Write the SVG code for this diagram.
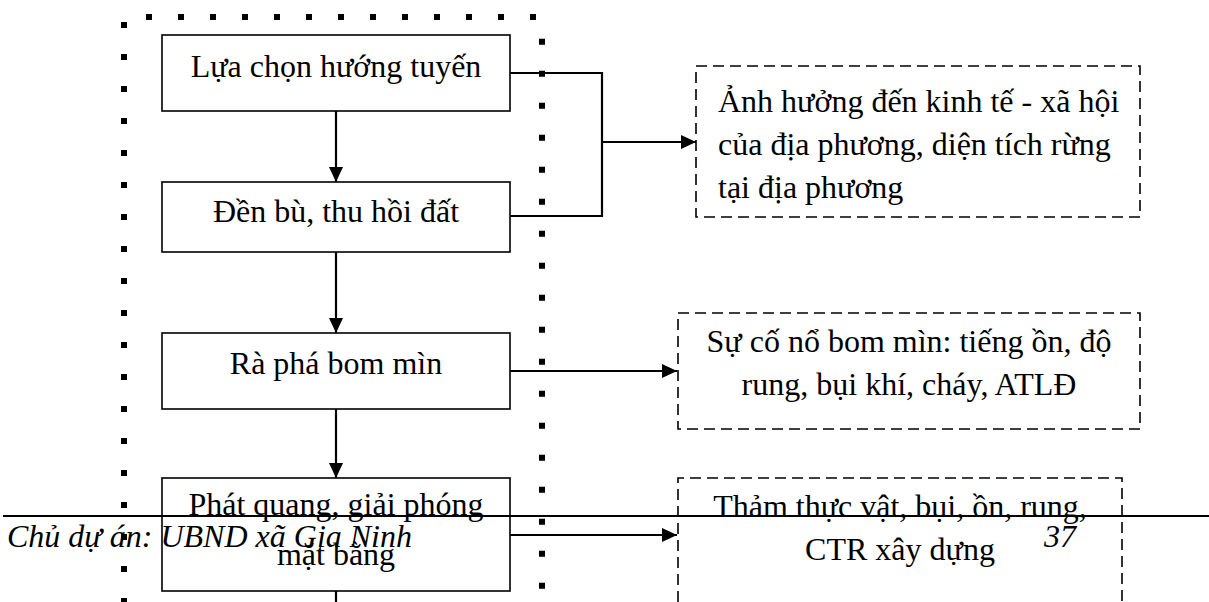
<svg xmlns="http://www.w3.org/2000/svg" width="1209" height="602" viewBox="0 0 1209 602">
<style>
text{font-family:"Liberation Serif","Times New Roman",serif;font-size:32px;fill:#000}
.c{text-anchor:middle}
.i{font-style:italic}
.box{fill:#fff;stroke:#000;stroke-width:1.6}
.dbox{fill:none;stroke:#000;stroke-width:1.6;stroke-dasharray:11 6}
.dots{stroke:#000;stroke-width:6;stroke-dasharray:6 26;fill:none}
.ln{stroke:#000;stroke-width:2.2;fill:none}
</style>
<defs>
<marker id="ah" markerUnits="userSpaceOnUse" markerWidth="16" markerHeight="14" refX="15" refY="7" orient="auto">
<path d="M0,0 L15,7 L0,14 z" fill="#000"/>
</marker>
</defs>
<g id="frame">
<line class="dots" x1="146" y1="17" x2="537" y2="17"/>
<line class="dots" x1="124" y1="22" x2="124" y2="602"/>
<line class="dots" x1="542" y1="38.7" x2="542" y2="602"/>
</g>
<g id="connectors">
<line class="ln" x1="336" y1="111" x2="336" y2="182" marker-end="url(#ah)"/>
<line class="ln" x1="336" y1="252" x2="336" y2="333" marker-end="url(#ah)"/>
<line class="ln" x1="336" y1="409" x2="336" y2="478" marker-end="url(#ah)"/>
<line class="ln" x1="336" y1="591" x2="336" y2="602"/>
<polyline class="ln" points="510,73 602,73 602,216 510,216"/>
<line class="ln" x1="602" y1="142" x2="696" y2="142" marker-end="url(#ah)"/>
<line class="ln" x1="510" y1="371" x2="677" y2="371" marker-end="url(#ah)"/>
<line class="ln" x1="510" y1="535" x2="677" y2="535" marker-end="url(#ah)"/>
</g>
<g id="n1">
<rect class="box" x="162" y="35" width="348" height="76"/>
<text class="c" x="336" y="77">Lựa chọn hướng tuyến</text>
</g>
<g id="n2">
<rect class="box" x="162" y="182" width="348" height="70"/>
<text class="c" x="336" y="222">Đền bù, thu hồi đất</text>
</g>
<g id="n3">
<rect class="box" x="162" y="333" width="348" height="76"/>
<text class="c" x="336" y="374">Rà phá bom mìn</text>
</g>
<g id="n4">
<rect class="box" x="162" y="478" width="348" height="113"/>
<text class="c" x="336" y="515">Phát quang, giải phóng</text>
<text class="c" x="336" y="565">mặt bằng</text>
</g>
<g id="d1">
<rect class="dbox" x="696" y="66" width="444" height="151"/>
<text x="718" y="112">Ảnh hưởng đến kinh tế - xã hội</text>
<text x="718" y="155">của địa phương, diện tích rừng</text>
<text x="718" y="198">tại địa phương</text>
</g>
<g id="d2">
<rect class="dbox" x="678" y="313" width="462" height="116"/>
<text class="c" x="909" y="352">Sự cố nổ bom mìn: tiếng ồn, độ</text>
<text class="c" x="909" y="395">rung, bụi khí, cháy, ATLĐ</text>
</g>
<g id="d3">
<path class="dbox" d="M678,602 V478 H1122 V602"/>
<text class="c" x="900" y="517">Thảm thực vật, bụi, ồn, rung,</text>
<text class="c" x="900" y="560">CTR xây dựng</text>
</g>
<g id="footer">
<line x1="3" y1="516" x2="1209" y2="516" stroke="#000" stroke-width="2"/>
<text class="i" x="7" y="547">Chủ dự án: UBND xã Gia Ninh</text>
<text class="i" x="1044" y="547">37</text>
</g>
</svg>
